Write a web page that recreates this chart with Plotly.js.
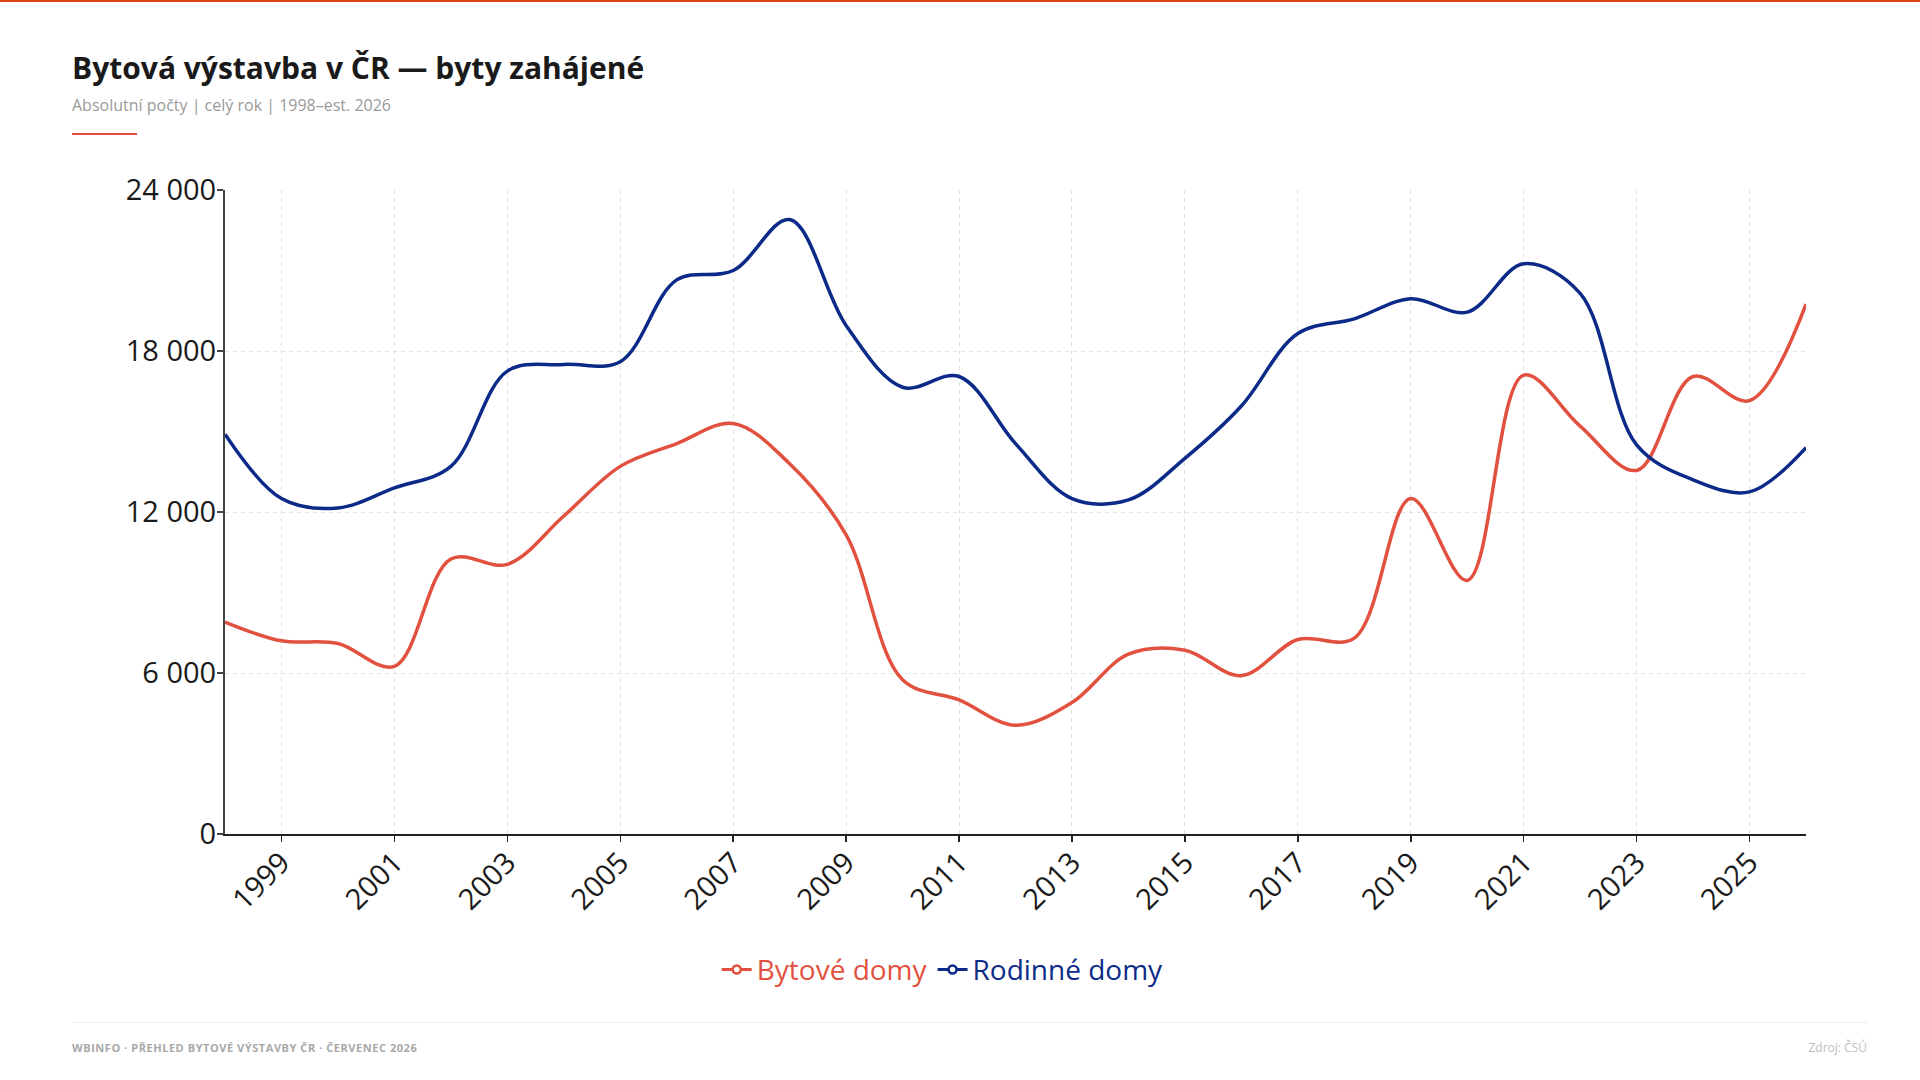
<!DOCTYPE html>
<html lang="cs">
<head>
<meta charset="utf-8">
<title>Bytová výstavba v ČR</title>
<script src="https://cdn.plot.ly/plotly-3.0.1.min.js"></script>
<style>
	html, body {
		margin: 0;
		padding: 0;
		background: #fff;
		width: 1920px;
		height: 1080px;
		overflow: hidden;
		font-family: "Open Sans", "Noto Sans", sans-serif;
	}
	#topbar {
		position: absolute;
		left: 0;
		top: 0;
		width: 1920px;
		height: 2px;
		background: #dc4812;
	}
	#plot {
		position: absolute;
		left: 0;
		top: 0;
		width: 1920px;
		height: 1080px;
	}
	.title {
		position: absolute;
		left: 72px;
		top: 53px;
		font-size: 30px;
		line-height: 30px;
		font-weight: 700;
		color: #1a1a1a;
		white-space: nowrap;
	}
	.subtitle {
		position: absolute;
		left: 72px;
		top: 97px;
		font-size: 16px;
		line-height: 16px;
		color: #9a9a9a;
		white-space: nowrap;
	}
	.accent {
		position: absolute;
		left: 72px;
		top: 133px;
		width: 65px;
		height: 2px;
		background: #e04a3a;
	}
	.footer-line {
		position: absolute;
		left: 72px;
		top: 1022px;
		width: 1796px;
		height: 1px;
		background: #efefef;
	}
	.footer-left, .footer-right {
		position: absolute;
		top: 1041px;
		line-height: 14px;
		white-space: nowrap;
	}
	.footer-left {
		left: 72px;
		font-size: 11px;
		font-weight: 700;
		color: #a8a8a8;
		letter-spacing: 0.55px;
	}
	.footer-right {
		right: 53px;
		font-size: 12px;
		color: #bdbdbd;
	}
</style>
</head>
<body>
<div id="plot"></div>
<div id="topbar"></div>
<div class="title">Bytová výstavba v ČR — byty zahájené</div>
<div class="subtitle">Absolutní počty | celý rok | 1998–est. 2026</div>
<div class="accent"></div>
<div class="footer-line"></div>
<div class="footer-left">WBINFO · PŘEHLED BYTOVÉ VÝSTAVBY ČR · ČERVENEC 2026</div>
<div class="footer-right">Zdroj: ČSÚ</div>

<script>
const years = [
	1998, 1999, 2000, 2001, 2002, 2003, 2004, 2005, 2006, 2007,
	2008, 2009, 2010, 2011, 2012, 2013, 2014, 2015, 2016, 2017,
	2018, 2019, 2020, 2021, 2022, 2023, 2024, 2025, 2026,
];

// byty zahájené v bytových domech
const bytoveDomy = [
	7900, 7200, 7100, 6250, 10250, 10050, 11850, 13700, 14550, 15300,
	13800, 11150, 5750, 5000, 4050, 4900, 6700, 6850, 5900, 7250,
	7300, 12500, 9450, 17100, 15200, 13550, 17050, 16150, 19750,
];

// byty zahájené v rodinných domech
const rodinneDomy = [
	14900, 12500, 12150, 12900, 13700, 17250, 17500, 17600, 20650, 21000,
	22900, 18950, 16650, 17050, 14550, 12500, 12450, 14000, 15950, 18650,
	19200, 19950, 19450, 21250, 20150, 14500, 13200, 12750, 14400,
];

const seriesNames = ["Bytové domy", "Rodinné domy"];
const yTicks = [0, 6000, 12000, 18000, 24000];

const RED = "#e2513f";
const BLUE = "#0c2a88";
const GRID = "#e2e2e2";

const plotDiv = document.getElementById("plot");

const lineAttrs = color => ({
	type: "scatter",
	mode: "lines",
	line: { color, width: 3.5, shape: "spline", smoothing: 1 },
	showlegend: false,
	hoverinfo: "skip",
});

// legend-only entries: line with a hollow circle, coloured label
const legendAttrs = (name, color) => ({
	type: "scatter",
	mode: "lines+markers",
	x: [null],
	y: [null],
	name: `<span style="color:${color}">${name}</span>`,
	line: { color, width: 3 },
	marker: { size: 8, color: "#fff", line: { color, width: 2.5 } },
	hoverinfo: "skip",
});

const data = [
	{ x: years, y: bytoveDomy, ...lineAttrs(RED) },
	{ x: years, y: rodinneDomy, ...lineAttrs(BLUE) },
	legendAttrs(seriesNames[0], RED),
	legendAttrs(seriesNames[1], BLUE),
];

const tickFont = { family: "Open Sans, sans-serif", size: 29, color: "#1a1a1a" };

const layout = {
	width: 1920,
	height: 1080,
	margin: { l: 225, r: 114, t: 190, b: 246 },
	paper_bgcolor: "rgba(0,0,0,0)",
	plot_bgcolor: "#fff",
	separators: ", ",
	hovermode: false,
	font: { family: "Open Sans, sans-serif" },
	xaxis: {
		range: [1998, 2026],
		tick0: 1999,
		dtick: 2,
		tickangle: -45,
		ticks: "outside",
		ticklen: 6,
		tickwidth: 1.5,
		tickcolor: "#222",
		ticklabelstandoff: -8,
		showline: true,
		linecolor: "#222",
		linewidth: 2,
		showgrid: true,
		gridcolor: GRID,
		gridwidth: 1,
		griddash: "4px,4px",
		minor: {
			tickvals: [2026],
			showgrid: true,
			gridcolor: GRID,
			griddash: "4px,4px",
			ticks: "",
		},
		zeroline: false,
		tickfont: tickFont,
		fixedrange: true,
	},
	yaxis: {
		range: [0, 24000],
		tickvals: yTicks,
		tickformat: ",d",
		ticks: "outside",
		ticklen: 6,
		tickwidth: 1.5,
		tickcolor: "#444",
		ticklabelstandoff: -5,
		showline: true,
		linecolor: "#444",
		linewidth: 2,
		showgrid: true,
		gridcolor: GRID,
		gridwidth: 1,
		griddash: "4px,4px",
		zeroline: false,
		tickfont: tickFont,
		fixedrange: true,
	},
	showlegend: true,
	legend: {
		orientation: "h",
		xref: "container",
		yref: "container",
		x: 0.491,
		y: 0.102,
		xanchor: "center",
		yanchor: "middle",
		font: { family: "Open Sans, sans-serif", size: 28 },
		itemwidth: 30,
		bgcolor: "rgba(0,0,0,0)",
	},
};

Plotly.newPlot(plotDiv, data, layout, { displayModeBar: false, staticPlot: true });
</script>
</body>
</html>
